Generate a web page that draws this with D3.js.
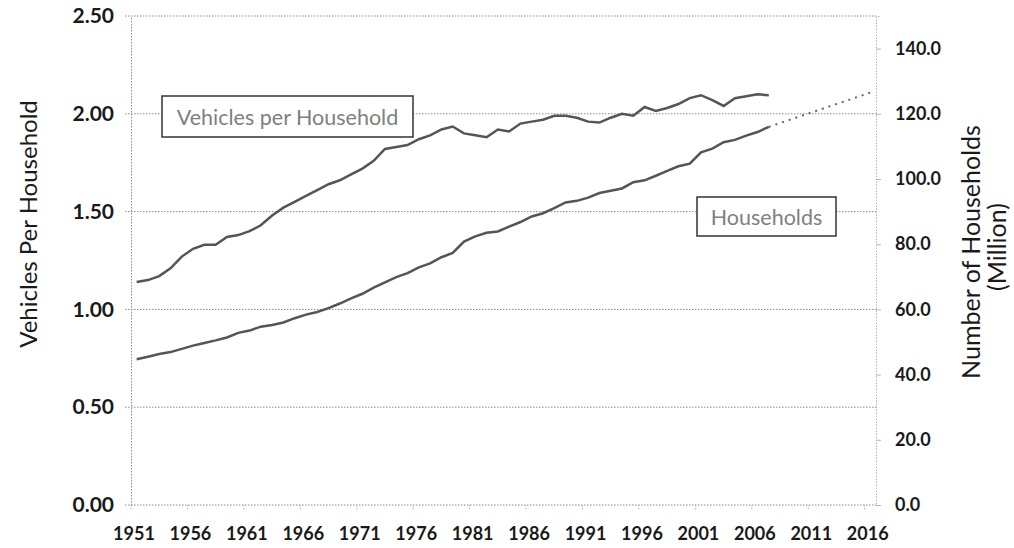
<!DOCTYPE html>
<html>
<head>
<meta charset="utf-8">
<script src="https://cdn.jsdelivr.net/npm/d3@7"></script>
<style>
  body { margin: 0; background: #fff; }
  text { font-family: Lato, "Open Sans", sans-serif; }
</style>
</head>
<body>
<svg id="chart" width="1014" height="548"></svg>
<script>
// data
const years = d3.range(1951, 2017);
const dataYears = d3.range(1951, 2008);

const vehiclesPerHousehold = [
    1.14, 1.15, 1.17, 1.21, 1.27, 1.31, 1.33, 1.33, 1.37, 1.38,
    1.40, 1.43, 1.48, 1.52, 1.55, 1.58, 1.61, 1.64, 1.66, 1.69,
    1.72, 1.76, 1.82, 1.83, 1.84, 1.87, 1.89, 1.92, 1.935, 1.90,
    1.89, 1.88, 1.92, 1.91, 1.95, 1.96, 1.97, 1.99, 1.99, 1.98,
    1.96, 1.955, 1.98, 2.00, 1.99, 2.035, 2.015, 2.03, 2.05, 2.08,
    2.095, 2.07, 2.04, 2.08, 2.09, 2.10, 2.095
];

const households = [
    44.7, 45.5, 46.3, 46.9, 47.9, 48.9, 49.7, 50.5, 51.4, 52.8,
    53.5, 54.7, 55.2, 56.0, 57.3, 58.4, 59.2, 60.4, 61.8, 63.4,
    64.8, 66.7, 68.3, 69.9, 71.1, 72.9, 74.1, 76.0, 77.3, 80.8,
    82.4, 83.5, 83.9, 85.4, 86.8, 88.5, 89.5, 91.1, 92.8, 93.3,
    94.3, 95.7, 96.4, 97.1, 99.0, 99.6, 101.0, 102.5, 103.9, 104.7,
    108.2, 109.3, 111.3, 112.0, 113.3, 114.4, 116.0
];

// dotted projection of households
const projectionYears = [2007, 2016];
const projection = [116.0, 126.5];

const leftTicks = [0, 0.5, 1.0, 1.5, 2.0, 2.5];
const rightTicks = [0, 20, 40, 60, 80, 100, 120, 140];
const yearTicks = years.filter(y => (y - 1951) % 5 === 0);

const svg = d3.select('#chart');

const plot = {left: 131, right: 876, top: 16, bottom: 505};

const xScale = d3.scaleBand()
    .domain(years)
    .range([plot.left, plot.right]);
const xMid = yr => xScale(yr) + xScale.bandwidth() / 2;

const yLeft = d3.scaleLinear()
    .domain([0, 2.5])
    .range([plot.bottom, plot.top]);

const yRight = d3.scaleLinear()
    .domain([0, 150])
    .range([plot.bottom, plot.top]);

const gridColor = '#8a8a8a';

// horizontal grid lines
svg.append('g')
    .selectAll('line')
    .data(leftTicks)
    .enter()
    .append('line')
    .attr('x1', plot.left - 6)
    .attr('x2', plot.right)
    .attr('y1', d => yLeft(d))
    .attr('y2', d => yLeft(d))
    .attr('stroke', gridColor)
    .attr('stroke-width', 1)
    .attr('stroke-dasharray', '1.5,1.5');

// left axis
const leftAxis = svg.append('g')
    .attr('transform', `translate(${plot.left}, 0)`)
    .call(d3.axisLeft(yLeft).tickValues(leftTicks).tickFormat(d3.format('.2f')).tickSize(0).tickPadding(17));
leftAxis.select('.domain')
    .attr('stroke', gridColor)
    .attr('stroke-dasharray', '1.5,1.5');
leftAxis.selectAll('text')
    .style('font-family', 'Lato, sans-serif')
    .style('font-size', '21px')
    .style('font-weight', 'bold')
    .attr('fill', '#1a1a1a');

// right axis
const rightAxis = svg.append('g')
    .attr('transform', `translate(${plot.right}, 0)`)
    .call(d3.axisRight(yRight).tickValues(rightTicks).tickFormat(d3.format('.1f')).tickSize(5).tickPadding(14));
rightAxis.select('.domain')
    .attr('stroke', '#b5b5b5')
    .attr('stroke-dasharray', '1.5,1.5');
rightAxis.selectAll('.tick line')
    .attr('stroke', '#b5b5b5');
rightAxis.selectAll('text')
    .style('font-family', 'Lato, sans-serif')
    .style('font-size', '18px')
    .style('font-weight', 'bold')
    .attr('fill', '#1a1a1a');

// bottom axis
const bottomAxis = svg.append('g')
    .attr('transform', `translate(0, ${plot.bottom})`);
bottomAxis.selectAll('line')
    .data(yearTicks)
    .enter()
    .append('line')
    .attr('x1', d => xScale(d))
    .attr('x2', d => xScale(d))
    .attr('y1', 0)
    .attr('y2', 6)
    .attr('stroke', '#b5b5b5')
    .attr('stroke-dasharray', '1.5,1.5');
bottomAxis.selectAll('text')
    .data(yearTicks)
    .enter()
    .append('text')
    .attr('x', d => xScale(d) + 3)
    .attr('y', 35)
    .attr('text-anchor', 'middle')
    .style('font-size', '18px')
    .style('font-weight', 'bold')
    .attr('fill', '#1a1a1a')
    .text(d => d);

// lines
const vphLine = d3.line()
    .x((d, i) => xMid(dataYears[i]))
    .y(d => yLeft(d));

const hhLine = d3.line()
    .x((d, i) => xMid(dataYears[i]))
    .y(d => yRight(d));

const projLine = d3.line()
    .x((d, i) => xMid(projectionYears[i]))
    .y(d => yRight(d));

const lineColor = '#555';

svg.append('path')
    .attr('d', hhLine(households))
    .attr('fill', 'none')
    .attr('stroke', lineColor)
    .attr('stroke-width', 2.5);

svg.append('path')
    .attr('d', projLine(projection))
    .attr('fill', 'none')
    .attr('stroke', '#666')
    .attr('stroke-width', 2)
    .attr('stroke-dasharray', '2,5');

svg.append('path')
    .attr('d', vphLine(vehiclesPerHousehold))
    .attr('fill', 'none')
    .attr('stroke', lineColor)
    .attr('stroke-width', 2.5);

// label boxes
function labelBox(x, y, w, h, label) {
    const g = svg.append('g').attr('transform', `translate(${x}, ${y})`);
    g.append('rect')
        .attr('width', w)
        .attr('height', h)
        .attr('fill', '#fff')
        .attr('stroke', '#333')
        .attr('stroke-width', 1.5);
    g.append('text')
        .attr('x', w / 2)
        .attr('y', h / 2 + 8)
        .attr('text-anchor', 'middle')
        .style('font-size', '21.5px')
        .attr('fill', '#808080')
        .text(label);
}
labelBox(162, 96, 251, 41, 'Vehicles per Household');
labelBox(697, 197, 139, 39, 'Households');

// axis titles
svg.append('text')
    .attr('transform', 'translate(37, 224) rotate(-90)')
    .attr('text-anchor', 'middle')
    .style('font-size', '24px')
    .attr('fill', '#1a1a1a')
    .text('Vehicles Per Household');

svg.append('text')
    .attr('transform', 'translate(980, 252) rotate(-90)')
    .attr('text-anchor', 'middle')
    .style('font-size', '25px')
    .attr('fill', '#1a1a1a')
    .text('Number of Households');

svg.append('text')
    .attr('transform', 'translate(1006, 247) rotate(-90)')
    .attr('text-anchor', 'middle')
    .style('font-size', '25px')
    .attr('fill', '#1a1a1a')
    .text('(Million)');
</script>
</body>
</html>
